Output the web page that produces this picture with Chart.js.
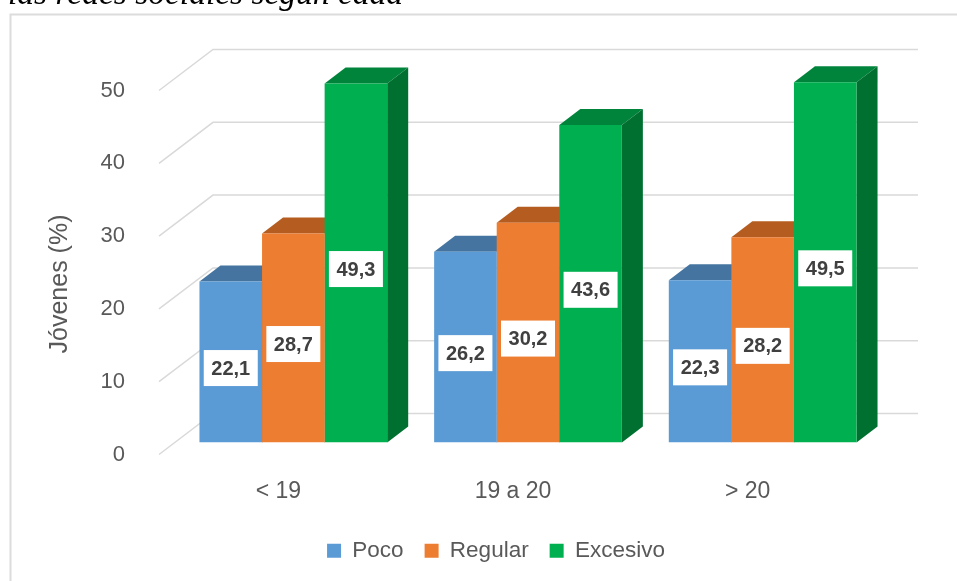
<!DOCTYPE html>
<html>
<head>
<meta charset="utf-8">
<script src="https://cdn.jsdelivr.net/npm/chart.js@4"></script>
<style>
	html, body { margin: 0; padding: 0; background: #fff; overflow: hidden; }
	#wrap { position: relative; width: 957px; height: 581px; overflow: hidden; }
	#myChart { position: absolute; left: 0; top: 0; }
	#caption { position: absolute; left: 8px; top: -26px; white-space: nowrap;
		font: italic 33.5px "Liberation Serif", serif; color: #000; }
</style>
</head>
<body>
<div id="wrap">
	<canvas id="myChart" width="957" height="581"></canvas>
	<div id="caption">las redes sociales según cada</div>
</div>
<script>
const categories = ['< 19', '19 a 20', '> 20'];
const poco = [22.1, 26.2, 22.3];
const regular = [28.7, 30.2, 28.2];
const excesivo = [49.3, 43.6, 49.5];
const yTicks = [0, 10, 20, 30, 40, 50];

const frontColors = ['#5B9BD5', '#ED7D31', '#00B050'];
const topColors = ['#44749F', '#B55D20', '#00843C'];
const sideColors = ['#3E6E99', '#A9551D', '#007030'];

const sans = '"Liberation Sans", sans-serif';
const textColor = '#595959';

// fake 3D: how far the bars and the floor go backwards
const barDepth = { x: 21, y: -16 };
const wallRight = 918;

// frame and grid, the grid has a back wall and a diagonal on the side wall
const gridPlugin = {
	id: 'grid3d',
	beforeDatasetsDraw(chart) {
		const ctx = chart.ctx;
		const y = chart.scales.y;
		ctx.save();
		ctx.strokeStyle = '#DCDCDC';
		ctx.lineWidth = 2;
		ctx.beginPath();
		ctx.moveTo(10.5, 581);
		ctx.lineTo(10.5, 14.5);
		ctx.lineTo(957, 14.5);
		ctx.stroke();
		ctx.strokeStyle = '#D9D9D9';
		ctx.lineWidth = 1.5;
		yTicks.forEach(v => {
			const p = y.getPixelForValue(v);
			ctx.beginPath();
			ctx.moveTo(159, p + 12);
			ctx.lineTo(213, p - 29);
			ctx.lineTo(wallRight, p - 29);
			ctx.stroke();
		});
		// tops and sides of the bars, the library draws the front on top
		chart.data.datasets.forEach((ds, i) => {
			chart.getDatasetMeta(i).data.forEach(bar => {
				const l = bar.x - bar.width / 2;
				const r = bar.x + bar.width / 2;
				ctx.fillStyle = topColors[i];
				ctx.beginPath();
				ctx.moveTo(l, bar.y);
				ctx.lineTo(l + barDepth.x, bar.y + barDepth.y);
				ctx.lineTo(r + barDepth.x, bar.y + barDepth.y);
				ctx.lineTo(r, bar.y);
				ctx.fill();
				ctx.fillStyle = sideColors[i];
				ctx.beginPath();
				ctx.moveTo(r, bar.y);
				ctx.lineTo(r + barDepth.x, bar.y + barDepth.y);
				ctx.lineTo(r + barDepth.x, bar.base + barDepth.y);
				ctx.lineTo(r, bar.base);
				ctx.fill();
			});
		});
		ctx.restore();
	},
	afterDatasetsDraw(chart) {
		const ctx = chart.ctx;
		ctx.save();
		// value boxes
		chart.data.datasets.forEach((ds, i) => {
			chart.getDatasetMeta(i).data.forEach((bar, j) => {
				const cy = (bar.y + bar.base) / 2 + 6;
				ctx.fillStyle = '#fff';
				ctx.fillRect(bar.x - 27, cy - 18, 54, 36);
				ctx.fillStyle = '#404040';
				ctx.font = 'bold 20px ' + sans;
				ctx.textAlign = 'center';
				ctx.textBaseline = 'middle';
				ctx.fillText(ds.data[j].toFixed(1).replace('.', ','), bar.x, cy + 1);
			});
		});
		// axis title sits lower than the middle of the axis
		ctx.translate(60, 284);
		ctx.rotate(-Math.PI / 2);
		ctx.fillStyle = textColor;
		ctx.font = '25px ' + sans;
		ctx.textAlign = 'center';
		ctx.textBaseline = 'middle';
		ctx.fillText('Jóvenes (%)', 0, 0);
		ctx.restore();
	}
};

let myChart = new Chart(document.getElementById('myChart').getContext('2d'), {
	type: 'bar',
	data: {
		labels: categories,
		datasets: [
			{ label: 'Poco', data: poco, backgroundColor: frontColors[0] },
			{ label: 'Regular', data: regular, backgroundColor: frontColors[1] },
			{ label: 'Excesivo', data: excesivo, backgroundColor: frontColors[2] }
		]
	},
	options: {
		responsive: false,
		animation: false,
		devicePixelRatio: 1,
		layout: { padding: { left: 35, right: 0, top: 78.5, bottom: 9 } },
		datasets: { bar: { barPercentage: 1, categoryPercentage: 0.8 } },
		scales: {
			x: {
				grid: { display: false },
				border: { display: false },
				ticks: {
					color: textColor,
					font: { family: sans, size: 23 },
					padding: 27,
					labelOffset: -15,
					maxRotation: 0
				},
				afterFit(s) { s.height = 76; }
			},
			y: {
				min: 0,
				max: 50,
				grid: { display: false },
				border: { display: false },
				ticks: {
					stepSize: 10,
					color: textColor,
					font: { family: sans, size: 22 },
					padding: 43,
					labelOffset: 12
				},
				afterFit(s) { s.width = 141; }
			},
			// empty axis, only keeps the room on the right of the plot
			rightGap: {
				position: 'right',
				grid: { display: false },
				border: { display: false },
				ticks: { display: false },
				afterFit(s) { s.width = 77; }
			}
		},
		plugins: {
			tooltip: { enabled: false },
			legend: {
				position: 'bottom',
				labels: {
					boxWidth: 14,
					boxHeight: 14,
					padding: 21,
					color: textColor,
					font: { family: sans, size: 22.5 }
				}
			}
		}
	},
	plugins: [gridPlugin]
});
</script>
</body>
</html>
